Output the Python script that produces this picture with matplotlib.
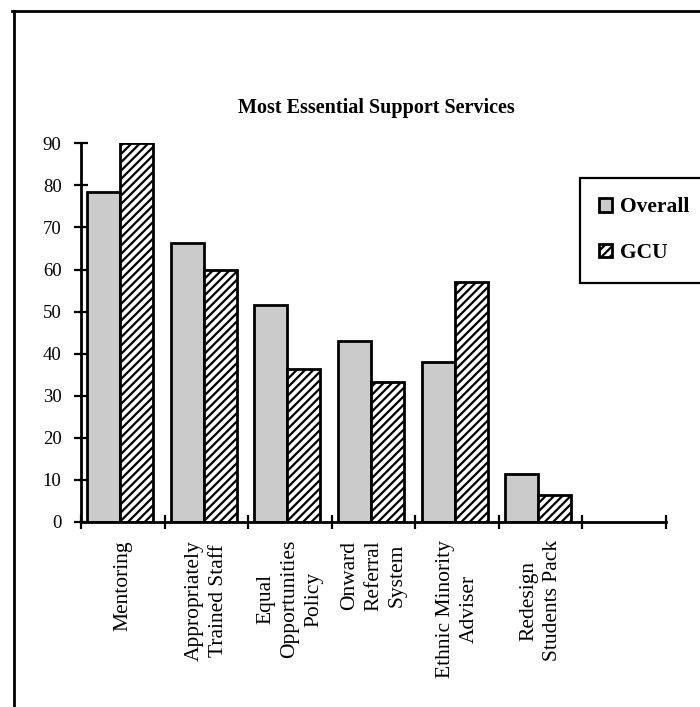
import numpy as np
import matplotlib
matplotlib.use('Agg')
import matplotlib.pyplot as plt
from matplotlib.lines import Line2D

plt.rcParams['font.family'] = ['Liberation Serif', 'DejaVu Serif']
plt.rcParams['hatch.linewidth'] = 1.6

# survey results, percent of respondents
services = ['Mentoring', 'Appropriately\nTrained Staff', 'Equal\nOpportunities\nPolicy',
            'Onward\nReferral\nSystem', 'Ethnic Minority\nAdviser', 'Redesign\nStudents Pack']
overall = [78.5, 66.4, 51.5, 43.0, 38.0, 11.3]
gcu = [90.0, 60.0, 36.4, 33.3, 57.0, 6.5]
yticks = [0, 10, 20, 30, 40, 50, 60, 70, 80, 90]

fig = plt.figure(figsize=(7.0, 7.07), dpi=100)
ax = fig.add_axes([81/700, 1 - 522/707, (666 - 81)/700, (522 - 143.3)/707])

x = np.arange(len(services)) + 0.47
w = 0.395
ax.bar(x - w/2, overall, w, color='#cbcbcb', edgecolor='black', linewidth=2, label='Overall')
ax.bar(x + w/2, gcu, w, color='white', edgecolor='black', linewidth=2, hatch='////', label='GCU')

ax.set_xlim(0, 7)
ax.set_ylim(0, 90)
ax.set_yticks(yticks)
ax.set_xticks(range(8))
ax.set_xticklabels([])
ax.set_xticks(np.arange(len(services)) + 0.5, minor=True)
ax.set_xticklabels(services, minor=True, rotation=90, ha='center', va='top',
                   multialignment='center', fontsize=15.5, linespacing=1.35)
ax.tick_params(axis='x', which='minor', length=0, pad=13)
ax.tick_params(axis='both', which='major', direction='inout', length=10, width=1.6,
               labelsize=13.5)
ax.tick_params(axis='y', pad=9)

for s in ['top', 'right']:
    ax.spines[s].set_visible(False)
for s in ['left', 'bottom']:
    ax.spines[s].set_linewidth(2)

fig.text(376/700, 1 - 108/707, 'Most Essential Support Services', ha='center', va='center',
         fontsize=14.5, fontweight='bold')

leg = fig.legend(loc='upper left', bbox_to_anchor=(580/700, 1 - 178/707),
                 prop={'weight': 'bold', 'size': 15.5}, fancybox=False, framealpha=1,
                 edgecolor='black', handlelength=0.6, handleheight=0.6,
                 handletextpad=0.35, labelspacing=1.2, borderpad=0.9, borderaxespad=0)
leg.get_frame().set_linewidth(1.6)

# page frame
fig.add_artist(Line2D([12/700, 1], [1 - 11/707, 1 - 11/707], color='black', lw=2))
fig.add_artist(Line2D([14/700, 14/700], [0, 1 - 11/707], color='black', lw=2))

fig.savefig('out.png', dpi=100, facecolor='white')
